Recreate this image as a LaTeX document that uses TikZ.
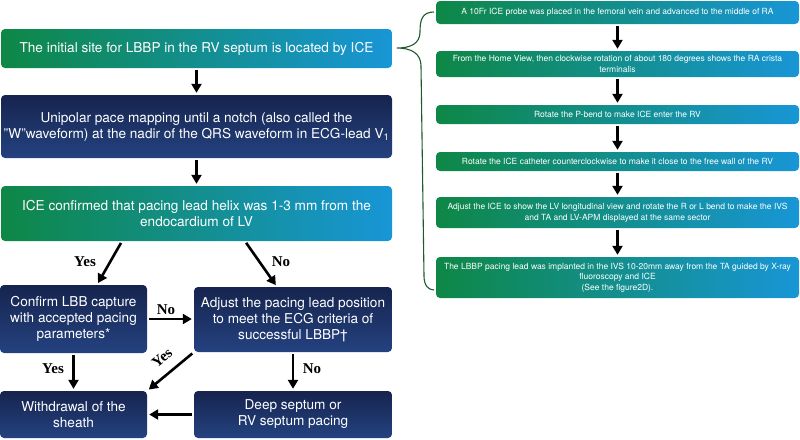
\documentclass[tikz,border=0pt]{standalone}
\usepackage{fontspec}
\setmainfont{TeX Gyre Heros}
\newfontfamily\yesnofont{Liberation Serif}
\usetikzlibrary{arrows.meta}
\definecolor{boxgreen}{RGB}{14,135,70}
\definecolor{boxblue}{RGB}{24,150,214}
\definecolor{navytop}{RGB}{22,36,78}
\definecolor{navybot}{RGB}{36,66,128}
\definecolor{bracegreen}{RGB}{30,90,45}

\begin{document}
\begin{tikzpicture}[x=1pt,y=-1pt,
    greenbox/.style={rounded corners=4pt, left color=boxgreen, right color=boxblue,
        text=white, align=center, inner sep=0pt},
    navybox/.style={rounded corners=4pt, top color=navytop, bottom color=navybot,
        text=white, align=center, inner sep=0pt},
    bigtext/.style={font=\fontsize{13.6}{16}\selectfont},
    smalltext/.style={font=\fontsize{8.5}{10.5}\selectfont},
    flow/.style={-{Triangle[length=9pt,width=10pt]}, line width=2.6pt,
        shorten <=2pt, shorten >=2pt},
    answer/.style={font=\yesnofont\bfseries\fontsize{15}{15}\selectfont}]
    \useasboundingbox (0,0) rectangle (800,439);

    \node[greenbox,bigtext,minimum width=391pt,minimum height=39pt] (init) at (196.5,48.5)
        {The initial site for LBBP in the RV septum is located by ICE};
    \node[navybox,bigtext,minimum width=391pt,minimum height=63pt] (unipolar) at (196.5,126.5)
        {Unipolar pace mapping until a notch (also called the\\
        "W"waveform) at the nadir of the QRS waveform in ECG-lead V\textsubscript{1}};
    \node[greenbox,bigtext,minimum width=391pt,minimum height=55pt] (helix) at (196.5,213.5)
        {ICE confirmed that pacing lead helix was 1-3 mm from the\\
        endocardium of LV};
    \node[navybox,bigtext,minimum width=147pt,minimum height=68pt] (capture) at (73.5,319)
        {Confirm LBB capture\\with accepted pacing\\parameters*};
    \node[navybox,bigtext,minimum width=198pt,minimum height=65pt] (adjust) at (293,319.5)
        {Adjust the pacing lead position\\to meet the ECG criteria of\\successful LBBP\dag};
    \node[navybox,bigtext,minimum width=147pt,minimum height=47pt] (withdraw) at (73.5,414.5)
        {Withdrawal of the\\sheath};
    \node[navybox,bigtext,minimum width=198pt,minimum height=47pt] (deep) at (293,414.5)
        {Deep septum or\\RV septum pacing};

    \node[greenbox,smalltext,minimum width=363pt,minimum height=23pt] (probe) at (617.5,12.5)
        {A 10Fr ICE probe was placed in the femoral vein and advanced to the middle of RA};
    \node[greenbox,smalltext,minimum width=363pt,minimum height=26pt] (home) at (617.5,64)
        {From the Home View, then clockwise rotation of about 180 degrees shows the RA crista\\
        terminalis};
    \node[greenbox,smalltext,minimum width=363pt,minimum height=19pt] (pbend) at (617.5,114.5)
        {Rotate the P-bend to make ICE enter the RV};
    \node[greenbox,smalltext,minimum width=363pt,minimum height=19pt] (counter) at (617.5,161.5)
        {Rotate the ICE catheter counterclockwise to make it close to the free wall of the RV};
    \node[greenbox,smalltext,minimum width=363pt,minimum height=31pt] (lvview) at (617.5,212.5)
        {Adjust the ICE to show the LV longitudinal view and rotate the R or L bend to make the IVS\\
        and TA and LV-APM displayed at the same sector};
    \node[greenbox,smalltext,minimum width=363pt,minimum height=41pt] (implant) at (617.5,277.5)
        {The LBBP pacing lead was implanted in the IVS 10-20mm away from the TA guided by X-ray\\
        fluoroscopy and ICE\\(See the figure2D).};

    \draw[flow] (init) -- (unipolar);
    \draw[flow] (unipolar) -- (helix);
    \draw[flow] ([xshift=-74.5pt]helix.south) -- ([xshift=23.5pt]capture.north);
    \draw[flow] ([xshift=48.5pt]helix.south) -- ([xshift=-16pt]adjust.north);
    \draw[flow] (capture.east) -- (capture.east -| adjust.west);
    \draw[flow] (capture) -- (withdraw);
    \draw[flow] (adjust.south west) -- (withdraw.north east);
    \draw[flow] (adjust) -- (deep);
    \draw[flow] (deep) -- (withdraw);

    \node[answer] (yes1) at (85,262) {Yes};
    \node[answer] (no1) at (281,262) {No};
    \node[answer] (no2) at (166,310) {No};
    \node[answer] (yes2) at (53,369) {Yes};
    \node[answer,rotate=40,inner sep=0pt] (yes3) at (162,358) {Yes};
    \node[answer] (no3) at (312,369) {No};

    \draw[flow] (probe) -- (home);
    \draw[flow] (home) -- (pbend);
    \draw[flow] (pbend) -- (counter);
    \draw[flow] (counter) -- (lvview);
    \draw[flow] (lvview) -- (implant);

    \draw[bracegreen,line width=1.1pt] (434,12) .. controls (422,12) and (420,20) .. (420,32)
        .. controls (420,44) and (410,48) .. (397,48)
        .. controls (412,48) and (421,54) .. (421,66) -- (424,276)
        .. controls (424,285) and (428,290) .. (434,290);
\end{tikzpicture}
\end{document}
